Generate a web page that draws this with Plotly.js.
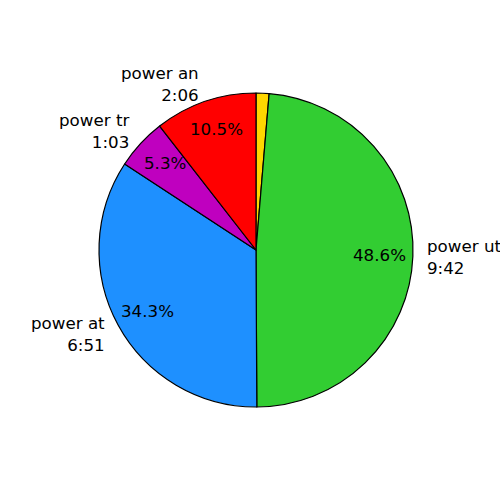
<!DOCTYPE html>
<html>
<head>
<meta charset="utf-8">
<script src="https://cdn.plot.ly/plotly-3.0.1.min.js"></script>
<style>html,body{margin:0;padding:0;background:#fff;}#chart{width:500px;height:500px;}</style>
</head>
<body>
<div id="chart"></div>
<script>
// Data (clockwise from 12 o'clock)
var names = ["power xx", "power ut", "power at", "power tr", "power an"];
var timeLabels = ["0:16", "9:42", "6:51", "1:03", "2:06"];
var seconds = [16, 582, 411, 63, 126];
var showLabel = [false, true, true, true, true];
var colors = ["#FFD700", "#32CD32", "#1E90FF", "#BF00BF", "#FF0000"];

var W = 500, H = 500;
var cx = 256, cy = 250, r = 157;
var rx = 154, ry = 160; // text placement radii
var total = seconds.reduce(function(a, b) { return a + b; }, 0);

var annotations = [];
var cum = 0;
var font = {family: "DejaVu Sans, sans-serif", size: 16.7, color: "#000"};
for (var i = 0; i < seconds.length; i++) {
  var frac = seconds[i] / total;
  var mid = cum + frac / 2;
  cum += frac;
  if (!showLabel[i]) continue;
  var theta = (90 - 360 * mid) * Math.PI / 180;
  var c = Math.cos(theta), s = Math.sin(theta);
  var lx = cx + 1.1 * rx * c, ly = cy - 1.1 * ry * s;
  annotations.push({
    x: lx / W, y: 1 - ly / H, xref: "paper", yref: "paper",
    text: names[i] + "<br>" + timeLabels[i],
    showarrow: false, xanchor: c >= 0 ? "left" : "right", yanchor: "middle",
    align: c >= 0 ? "left" : "right", font: font
  });
  var px = cx + 0.8 * rx * c, py = cy - 0.8 * ry * s;
  annotations.push({
    x: px / W, y: 1 - py / H, xref: "paper", yref: "paper",
    text: (100 * frac).toFixed(1) + "%",
    showarrow: false, xanchor: "center", yanchor: "middle", font: font
  });
}

var trace = {
  type: "pie",
  values: seconds,
  labels: names,
  sort: false,
  direction: "clockwise",
  rotation: 0,
  textinfo: "none",
  hoverinfo: "none",
  marker: {colors: colors, line: {color: "#000", width: 1.2}},
  domain: {x: [(cx - r) / W, (cx + r) / W], y: [1 - (cy + r) / H, 1 - (cy - r) / H]},
  showlegend: false
};

var layout = {
  width: W, height: H,
  margin: {l: 0, r: 0, t: 0, b: 0},
  paper_bgcolor: "#fff",
  showlegend: false,
  annotations: annotations
};

Plotly.newPlot("chart", [trace], layout, {staticPlot: true});
</script>
</body>
</html>
